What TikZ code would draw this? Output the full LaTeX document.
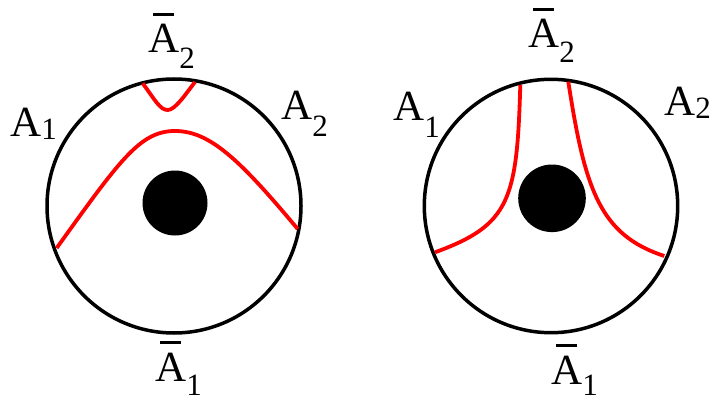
\documentclass[tikz,border=0pt]{standalone}
\usepackage{fontspec}
\setmainfont{Liberation Serif}
\newfontfamily\tms{Liberation Serif}
\tikzset{
  lbl/.style={anchor=base west, inner sep=0pt, font=\tms\fontsize{43}{46}\selectfont},
  rim/.style={draw=black, line width=3.5pt},
  cut/.style={draw=red, line width=3.8pt, line cap=butt},
}
\newcommand{\sbx}[2]{\raisebox{-#1pt}{\tms\fontsize{31}{33}\selectfont #2}}
\newcommand{\barA}{\makebox[0pt][l]{\hspace{5pt}\raisebox{37pt}{\rule{21pt}{3pt}}}A}
\begin{document}
\begin{tikzpicture}[x=1pt,y=-1pt]
\useasboundingbox (0,0) rectangle (712,401);
% left panel
\draw[rim] (174,206) circle (127);
\fill[black] (175,203) circle (32.5);
\draw[cut] (142.7,83.3) .. controls (155,100) and (160,110) .. (167.7,110) .. controls (175,110) and (185,95) .. (195,82);
\draw[cut] (56.7,248) .. controls (120,160) and (140,131) .. (175,131) .. controls (210,131) and (240,160) .. (297.7,229);
\node[lbl] (lA2b) at (148,53) {\barA\sbx{16}{2}};
\node[lbl] (lA1) at (10,136) {A\sbx{3}{1}};
\node[lbl] (lA2) at (281,120) {A\sbx{17}{2}};
\node[lbl] (lA1b) at (155,381) {\barA\sbx{14}{1}};
% right panel
\draw[rim] (551,206) circle (126.7);
\fill[black] (552,198.3) circle (33.8);
\draw[cut] (520.3,85) .. controls (517,200) and (510,225) .. (435,252.3);
\draw[cut] (568.3,81.7) .. controls (585,190) and (600,235) .. (664.3,256);
\node[lbl] (rA2b) at (528,48) {\barA\sbx{15}{2}};
\node[lbl] (rA1) at (393,121) {A\sbx{17}{1}};
\node[lbl] (rA2) at (664,116) {A\sbx{3}{2}};
\node[lbl] (rA1b) at (551,384) {\barA\sbx{11}{1}};
\end{tikzpicture}
\end{document}
